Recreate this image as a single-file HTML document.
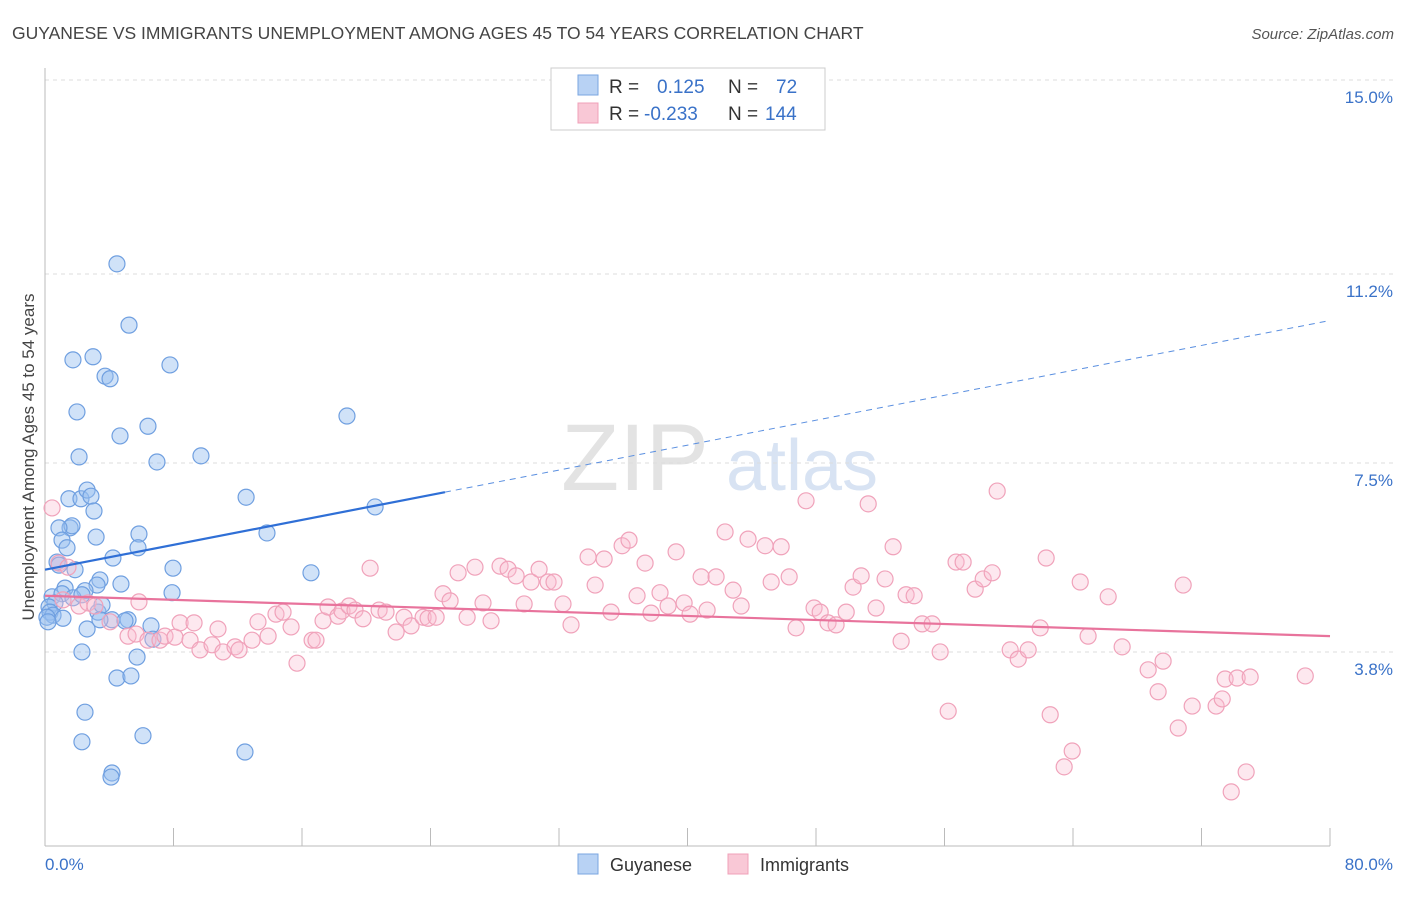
<!DOCTYPE html>
<html><head><meta charset="utf-8"><style>
body{margin:0;background:#fff;font-family:"Liberation Sans",sans-serif;}
svg text{font-family:"Liberation Sans",sans-serif;}
</style></head><body>
<svg id="chart" width="1406" height="892" viewBox="0 0 1406 892" xmlns="http://www.w3.org/2000/svg">
<text x="12" y="39" font-size="17.5" fill="#444">GUYANESE VS IMMIGRANTS UNEMPLOYMENT AMONG AGES 45 TO 54 YEARS CORRELATION CHART</text>
<text x="1394" y="39" font-size="15" fill="#555" text-anchor="end" font-style="italic">Source: ZipAtlas.com</text>
<g>
<text x="635" y="490" font-size="95" fill="#ddd" text-anchor="middle" font-family="Liberation Serif" opacity="0.8">ZIP</text>
<text x="802" y="490" font-size="72" fill="#c8d8ee" text-anchor="middle" opacity="0.7">atlas</text>
</g>
<g id="grid"></g>
<g id="axes"></g>
<g id="points"></g>
<g id="trends"></g>
<text transform="translate(34,457) rotate(-90)" font-size="17" fill="#444" text-anchor="middle">Unemployment Among Ages 45 to 54 years</text>
<text x="45" y="870" font-size="17" fill="#3a72c8">0.0%</text>
<text x="1393" y="870" font-size="17" fill="#3a72c8" text-anchor="end">80.0%</text>
<g>
<rect x="551" y="68" width="274" height="62" fill="#fff" stroke="#ccc"/>
<rect x="578" y="75" width="20" height="20" fill="#b8d2f4" stroke="#7aa6e0"/>
<rect x="578" y="103" width="20" height="20" fill="#f9c8d6" stroke="#f0a0b8"/>
<text x="609" y="93" font-size="19" fill="#333">R =</text>
<text x="657" y="93" font-size="19" fill="#3a72c8">0.125</text>
<text x="728" y="93" font-size="19" fill="#333">N =</text>
<text x="776" y="93" font-size="19" fill="#3a72c8">72</text>
<text x="609" y="120" font-size="19" fill="#333">R =</text>
<text x="644" y="120" font-size="19" fill="#3a72c8">-0.233</text>
<text x="728" y="120" font-size="19" fill="#333">N =</text>
<text x="765" y="120" font-size="19" fill="#3a72c8">144</text>
</g>
<g>
<rect x="578" y="854" width="20" height="20" fill="#b8d2f4" stroke="#7aa6e0"/>
<text x="610" y="871" font-size="18" fill="#333">Guyanese</text>
<rect x="728" y="854" width="20" height="20" fill="#f9c8d6" stroke="#f0a0b8"/>
<text x="760" y="871" font-size="18" fill="#333">Immigrants</text>
</g>
</svg>
<script>
const yTicks=[15.0,11.2,7.5,3.8];
const yTickLabels=["15.0%","11.2%","7.5%","3.8%"];
const xTicks=[0,8,16,24,32,40,48,56,64,72,80];
const blueX=[4.48,5.23,1.74,2.99,3.74,4.05,7.78,1.99,6.41,4.67,18.80,2.12,6.97,9.71,1.49,2.24,2.62,2.86,3.05,12.52,20.55,1.56,1.68,0.87,3.18,5.85,1.06,1.37,5.79,13.82,4.23,0.75,0.87,1.87,7.97,16.56,3.42,3.24,4.73,1.25,0.44,1.06,2.49,1.74,0.62,0.25,0.31,0.50,0.12,3.30,1.12,2.30,3.55,4.17,5.17,0.19,2.62,6.60,7.91,6.72,2.30,5.73,4.48,5.35,2.49,2.30,6.10,12.45,4.17,4.11,3.42,4.98];
const blueY=[11.40,10.20,9.52,9.58,9.20,9.15,9.42,8.50,8.22,8.03,8.42,7.62,7.52,7.64,6.80,6.80,6.97,6.85,6.56,6.83,6.64,6.23,6.27,6.23,6.05,6.11,5.99,5.84,5.84,6.13,5.64,5.56,5.50,5.41,5.44,5.35,5.21,5.11,5.13,5.05,4.88,4.94,5.00,4.86,4.76,4.68,4.58,4.52,4.48,4.58,4.46,4.92,4.72,4.43,4.43,4.39,4.25,4.31,4.96,4.05,3.80,3.70,3.29,3.33,2.62,2.04,2.16,1.84,1.43,1.35,4.43,4.41];
const pinkX=[0.44,0.87,1.43,1.12,2.12,2.68,3.11,4.05,5.85,5.17,5.67,6.41,7.16,7.47,8.09,8.41,9.28,9.03,9.65,10.40,10.77,11.08,11.83,12.08,12.89,13.26,13.89,14.38,14.82,15.32,15.69,16.63,16.87,17.31,17.62,18.24,18.49,18.93,19.30,19.80,20.24,20.80,21.23,21.86,22.35,22.79,23.54,23.85,24.35,24.78,25.22,25.72,26.28,26.77,27.27,27.77,28.33,28.83,29.33,29.83,30.26,30.76,31.32,31.69,32.25,32.75,33.81,34.25,34.81,35.24,35.93,36.36,36.86,37.36,37.73,38.29,38.79,39.29,39.79,40.16,40.85,41.22,41.78,42.34,42.84,43.34,43.77,44.83,45.21,45.83,46.33,46.76,47.38,47.88,48.26,48.75,49.25,49.88,50.31,50.81,51.25,51.74,52.30,52.80,53.30,53.61,54.11,54.61,55.23,55.73,56.23,56.72,57.16,57.91,58.41,58.97,59.28,60.09,60.59,61.21,61.96,62.33,62.58,63.45,63.95,64.45,64.94,66.19,67.06,68.68,69.30,69.61,70.55,70.86,71.42,72.91,73.29,73.47,74.22,75.03,74.78,73.85,78.46];
const pinkY=[6.62,5.54,5.46,4.82,4.70,4.76,4.70,4.39,4.78,4.11,4.15,4.03,4.03,4.11,4.09,4.37,4.37,4.03,3.84,3.94,4.25,3.80,3.90,3.84,4.03,4.39,4.11,4.54,4.58,4.29,3.58,4.03,4.03,4.41,4.68,4.50,4.60,4.70,4.62,4.45,5.44,4.62,4.58,4.19,4.48,4.31,4.48,4.46,4.48,4.94,4.80,5.35,4.48,5.46,4.76,4.41,5.48,5.42,5.29,4.74,5.17,5.42,5.17,5.17,4.74,4.33,5.66,5.11,5.62,4.58,5.88,5.99,4.90,5.54,4.56,4.96,4.70,5.76,4.76,4.54,5.27,4.62,5.27,6.15,5.01,4.70,6.01,5.88,5.17,5.86,5.27,4.27,6.76,4.66,4.58,4.37,4.33,4.58,5.07,5.29,6.70,4.66,5.23,5.86,4.01,4.92,4.90,4.35,4.35,3.80,2.64,5.56,5.56,5.03,5.23,5.35,6.95,3.84,3.66,3.84,4.27,5.64,2.57,1.55,1.86,5.17,4.11,4.88,3.90,3.45,3.02,3.62,2.31,5.11,2.74,2.74,2.88,3.27,3.29,3.31,1.45,1.06,3.33];
const blueTrend=[5.41,0.061];
const pinkTrend=[4.90,-0.00988];
const blueSolidEnd=24.9;

const NS="http://www.w3.org/2000/svg";
const X0=45,X1=1330,Y0=846,YTOP=80;
function sx(v){return X0+(X1-X0)*v/80;}
function sy(v){return Y0-(Y0-YTOP)*v/15;}
function mk(tag,attrs,parent){const e=document.createElementNS(NS,tag);for(const k in attrs)e.setAttribute(k,attrs[k]);parent.appendChild(e);return e;}
const grid=document.getElementById('grid'),axes=document.getElementById('axes'),pts=document.getElementById('points'),tr=document.getElementById('trends');
yTicks.forEach((t,i)=>{
  const l=mk('line',{x1:X0,x2:1394,y1:sy(t),y2:sy(t),stroke:'#ddd','stroke-dasharray':'4,4'},grid);
  
  
  const tx=mk('text',{x:1393,y:sy(t)+23,'font-size':17,fill:'#3a72c8','text-anchor':'end'},grid);
  tx.textContent=yTickLabels[i];
  
  
});
const ax=mk('line',{x1:X0,x2:X1,y1:Y0,y2:Y0,stroke:'#bbb'},axes);


const ay=mk('line',{x1:X0,x2:X0,y1:68,y2:Y0,stroke:'#bbb'},axes);


xTicks.forEach(t=>{
  const l=mk('line',{x1:sx(t),x2:sx(t),y1:828,y2:Y0,stroke:'#bbb'},axes);
  
  
});
blueX.forEach((v,i)=>{
  const c=mk('circle',{cx:sx(v),cy:sy(blueY[i]),r:8,fill:'rgba(150,190,240,0.45)',stroke:'#6f9fe0','stroke-width':1.2},pts);
  
  
});
pinkX.forEach((v,i)=>{
  const c=mk('circle',{cx:sx(v),cy:sy(pinkY[i]),r:8,fill:'rgba(248,190,208,0.35)',stroke:'#f0a2ba','stroke-width':1.2},pts);
  
  
});
function ty(t,x){return t[0]+t[1]*x;}
const b1=mk('line',{x1:sx(0),y1:sy(ty(blueTrend,0)),x2:sx(blueSolidEnd),y2:sy(ty(blueTrend,blueSolidEnd)),stroke:'#2f6fd6','stroke-width':2.2},tr);


const b2=mk('line',{x1:sx(blueSolidEnd),y1:sy(ty(blueTrend,blueSolidEnd)),x2:sx(80),y2:sy(ty(blueTrend,80)),stroke:'#5a8fe0','stroke-width':1,'stroke-dasharray':'6,5'},tr);


const p1=mk('line',{x1:sx(0),y1:sy(ty(pinkTrend,0)),x2:sx(80),y2:sy(ty(pinkTrend,80)),stroke:'#e8739c','stroke-width':2.2},tr);


</script>
</body></html>
